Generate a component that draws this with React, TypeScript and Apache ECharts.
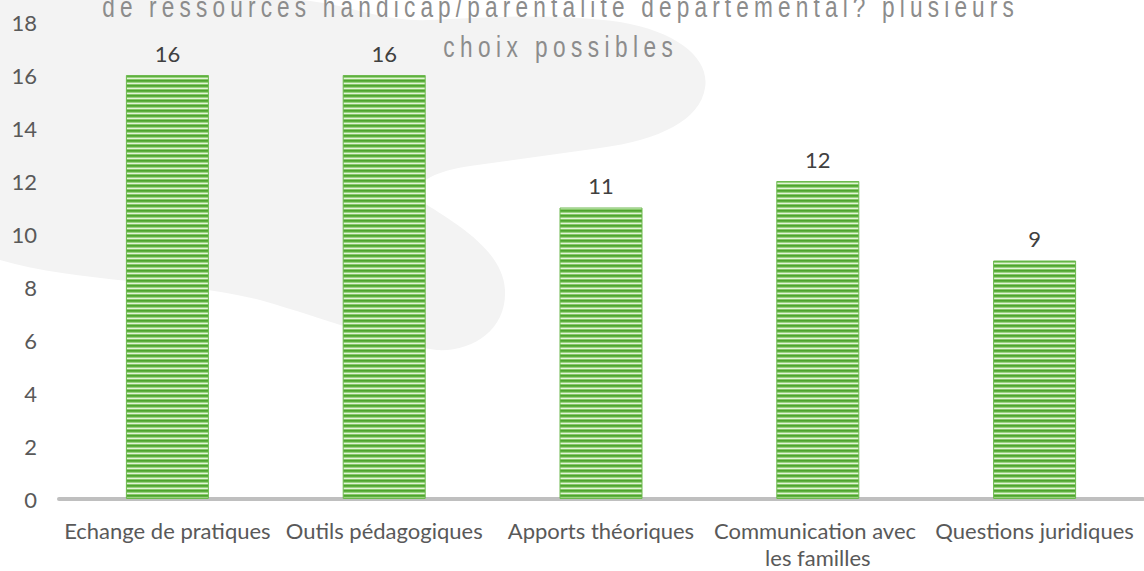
import React, { useEffect, useRef } from "react";
import * as echarts from "echarts";

const categories = [
  "Echange de pratiques",
  "Outils pédagogiques",
  "Apports théoriques",
  "Communication avec les familles",
  "Questions juridiques",
];
const values = [16, 16, 11, 12, 9];
const yMin = 0;
const yMax = 18;
const yStep = 2;
const titleLines = [
  "de ressources handicap/parentalité départemental? plusieurs",
  "choix possibles",
];
const titleTargetWidths = [917, 235];
const TITLE_SCALE_X = 0.78;

const BLOB_D =
  "M0,0 L300,0 C350,4 380,22 430,20 C500,16 560,14 620,22 C680,32 710,60 705,88 C700,120 660,140 600,148 L470,166 C430,172 410,185 420,200 C440,215 503,245 505,290 C507,330 472,352 437,350 C392,345 330,320 260,300 C180,280 80,283 0,260 Z";

let registered = false;
function ensureShape() {
  if (registered) return;
  registered = true;
  echarts.graphic.registerShape("blob", echarts.graphic.extendPath(BLOB_D, {}) as any);
}

function makeStripe(): HTMLCanvasElement {
  const c = document.createElement("canvas");
  c.width = 4;
  c.height = 5;
  const ctx = c.getContext("2d")!;
  const rows = ["#4EA52E", "#5FB040", "#9AD380", "#E3F4D8", "#86C869"];
  rows.forEach((col, i) => {
    ctx.fillStyle = col;
    ctx.fillRect(0, i, 4, 1);
  });
  return c;
}

export default function App() {
  const ref = useRef<HTMLDivElement>(null);
  useEffect(() => {
    document.body.style.margin = "0";
    ensureShape();
    const chart = echarts.init(ref.current!, undefined, { renderer: "svg" });
    const stripe = makeStripe();
    const font = "Lato, 'Open Sans', sans-serif";
    chart.setOption({
      animation: false,
      backgroundColor: "#ffffff",
      graphic: {
        elements: [
          {
            type: "blob",
            x: 0,
            y: 0,
            z: -10,
            silent: true,
            style: { fill: "#F3F3F3" },
          },
          {
            type: "text",
            x: 558,
            y: -13,
            z: 100,
            scaleX: TITLE_SCALE_X,
            silent: true,
            style: {
              text: titleLines.join("\n"),
              textAlign: "center",
              textVerticalAlign: "top",
              fill: "#8C8C8C",
              fontSize: 29,
              lineHeight: 40,
              fontFamily: "'Liberation Sans', Arial, sans-serif",
            },
          },
        ],
      },
      grid: {
        left: 59,
        right: 1,
        top: 22,
        bottom: 72,
        containLabel: false,
        outerBoundsMode: "none",
      } as any,
      xAxis: {
        type: "category",
        data: categories,
        axisLine: { show: true, lineStyle: { color: "#BFBFBF", width: 4 } },
        axisTick: { show: false },
        axisLabel: {
          interval: 0,
          color: "#595959",
          fontSize: 22,
          fontFamily: font,
          lineHeight: 27,
          margin: 18,
          width: 214,
          overflow: "break",
        },
      },
      yAxis: {
        type: "value",
        min: yMin,
        max: yMax,
        interval: yStep,
        axisLine: { show: false },
        axisTick: { show: false },
        splitLine: { show: false },
        axisLabel: { color: "#595959", fontSize: 22, fontFamily: font, margin: 22 },
      },
      series: [
        {
          type: "bar",
          data: values,
          barWidth: 83,
          itemStyle: {
            color: { image: stripe, repeat: "repeat", imageWidth: 4, imageHeight: 5 } as any,
            borderColor: "#6DB94F",
            borderWidth: 1,
          },
          label: {
            show: true,
            position: "top",
            distance: 11,
            color: "#404040",
            fontSize: 22,
            fontFamily: font,
          },
        },
      ],
    });

    const fixTitle = () => {
      const texts = ref.current?.querySelectorAll("text");
      if (!texts) return;
      texts.forEach((t) => {
        const content = (t.textContent || "").trim();
        const idx = titleLines.indexOf(content);
        if (idx >= 0 && !(t as any).__spaced) {
          (t as any).__spaced = true;
          const w = (t as SVGTextElement).getComputedTextLength();
          const n = content.length;
          const target = titleTargetWidths[idx] / TITLE_SCALE_X;
          const sp = Math.max(0, (target - w) / n);
          t.setAttribute("letter-spacing", sp.toFixed(2));
          const x = parseFloat(t.getAttribute("x") || "0");
          t.setAttribute("x", String(x + sp / 2));
        }
      });
    };
    fixTitle();
    chart.on("finished", fixTitle);
    return () => chart.dispose();
  }, []);
  return (
    <div
      ref={ref}
      style={{ position: "fixed", left: 0, top: 0, width: 1144, height: 571 }}
    />
  );
}
